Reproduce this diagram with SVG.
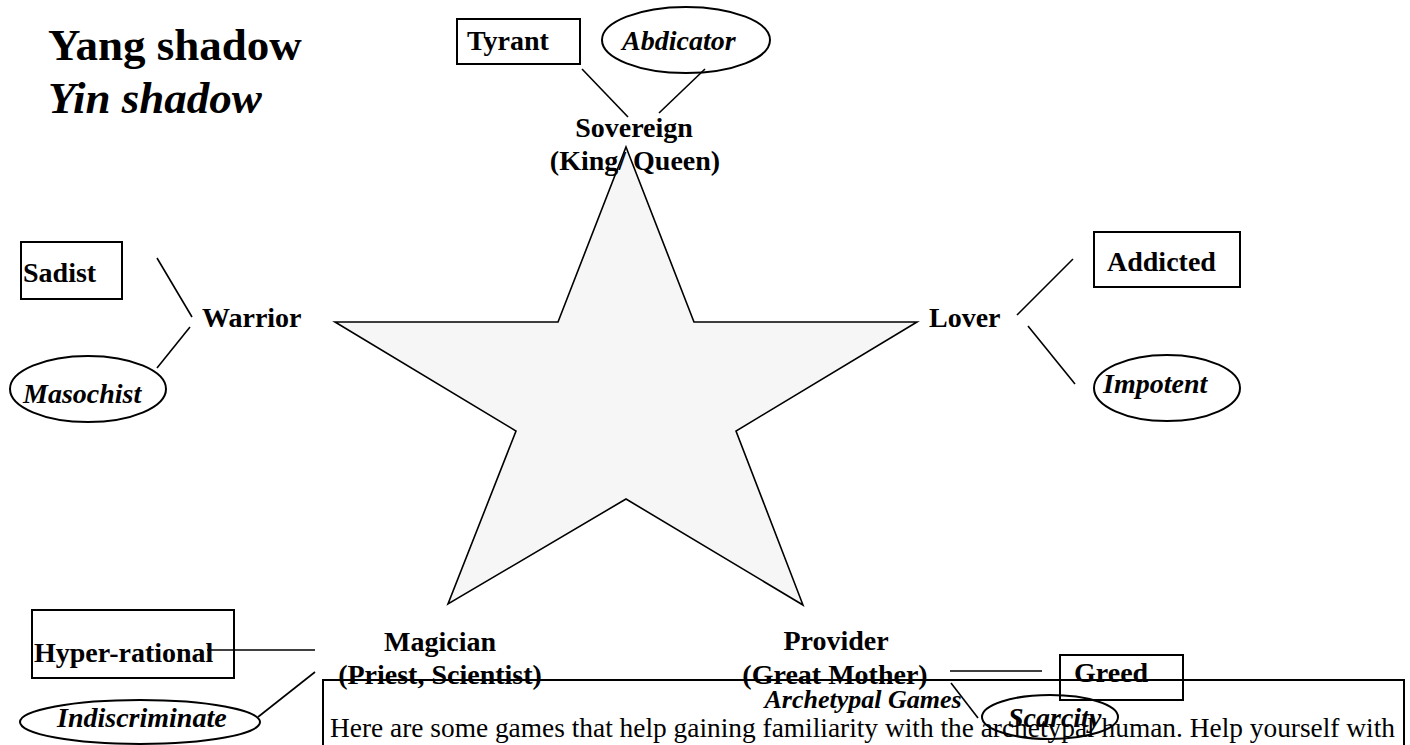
<svg xmlns="http://www.w3.org/2000/svg" width="1410" height="745" viewBox="0 0 1410 745">
<style>
text{font-family:"Liberation Serif","Times New Roman",serif;fill:#000}
.b{font-weight:bold;font-size:28px}
.bi{font-weight:bold;font-style:italic;font-size:28px}
.c{text-anchor:middle}
.shape{fill:none;stroke:#000;stroke-width:2}
.ln{stroke:#000;stroke-width:1.6;fill:none}
</style>
<rect width="1410" height="745" fill="#fff"/>
<g id="legend">
<text x="48" y="60" style="font-weight:bold;font-size:45px">Yang shadow</text>
<text x="48" y="113" style="font-weight:bold;font-style:italic;font-size:45px">Yin shadow</text>
</g>
<g id="star">
<polygon points="626,147 694,322 917,322 736,431 803,605 626,499 448,604 516,431 335,322 558,322" fill="#f6f6f6" stroke="#000" stroke-width="1.6"/>
</g>
<g id="connectors">
<line class="ln" x1="582" y1="69" x2="628" y2="117"/>
<line class="ln" x1="705" y1="69" x2="659" y2="113"/>
<line class="ln" x1="157" y1="258" x2="192" y2="317"/>
<line class="ln" x1="190" y1="327" x2="157" y2="368"/>
<line class="ln" x1="1017" y1="315" x2="1073" y2="259"/>
<line class="ln" x1="1028" y1="326" x2="1075" y2="384"/>
<line class="ln" x1="207" y1="650" x2="315" y2="650"/>
<line class="ln" x1="258" y1="717" x2="315" y2="672"/>
<line class="ln" x1="950" y1="671" x2="1042" y2="671"/>
<line class="ln" x1="951" y1="683" x2="978" y2="718"/>
</g>
<g id="sovereign">
<text class="b c" x="634" y="137">Sovereign</text>
<text class="b c" x="635" y="170">(King/ Queen)</text>
</g>
<g id="tyrant">
<rect class="shape" x="457" y="19" width="123" height="45"/>
<text class="b" x="467" y="50">Tyrant</text>
</g>
<g id="abdicator">
<ellipse class="shape" cx="686" cy="40" rx="84" ry="33"/>
<text class="bi" x="622" y="50">Abdicator</text>
</g>
<g id="warrior">
<text class="b" x="202" y="327">Warrior</text>
</g>
<g id="sadist">
<rect class="shape" x="21" y="242" width="101" height="57"/>
<text class="b" x="23" y="282">Sadist</text>
</g>
<g id="masochist">
<ellipse class="shape" cx="88" cy="389" rx="78" ry="33"/>
<text class="bi" x="23" y="403">Masochist</text>
</g>
<g id="lover">
<text class="b" x="929" y="327">Lover</text>
</g>
<g id="addicted">
<rect class="shape" x="1094" y="232" width="146" height="55"/>
<text class="b" x="1107" y="271">Addicted</text>
</g>
<g id="impotent">
<ellipse class="shape" cx="1167" cy="388" rx="73" ry="33"/>
<text class="bi" x="1103" y="393">Impotent</text>
</g>
<g id="magician">
<text class="b c" x="440" y="651">Magician</text>
<text class="b c" x="440" y="684">(Priest, Scientist)</text>
</g>
<g id="hyper-rational">
<rect class="shape" x="32" y="610" width="202" height="68"/>
<text class="b" x="34" y="662">Hyper-rational</text>
</g>
<g id="indiscriminate">
<ellipse class="shape" cx="140" cy="722" rx="120" ry="22"/>
<text class="bi" x="57" y="727">Indiscriminate</text>
</g>
<g id="provider">
<text class="b c" x="836" y="650">Provider</text>
<text class="b c" x="835" y="684">(Great Mother)</text>
</g>
<g id="greed">
<rect class="shape" x="1060" y="655" width="123" height="45"/>
<text class="b" x="1074" y="682">Greed</text>
</g>
<g id="games-box">
<rect class="shape" x="323" y="680" width="1081" height="80"/>
<text class="bi c" x="863" y="708" style="font-size:26px">Archetypal Games</text>
<text x="330" y="737" style="font-size:28px" textLength="1065" lengthAdjust="spacingAndGlyphs">Here are some games that help gaining familiarity with the archetypal human. Help yourself with</text>
</g>
<g id="scarcity">
<ellipse class="shape" cx="1050" cy="717" rx="68" ry="22"/>
<text class="bi" x="1008" y="727">Scarcity</text>
</g>
</svg>
